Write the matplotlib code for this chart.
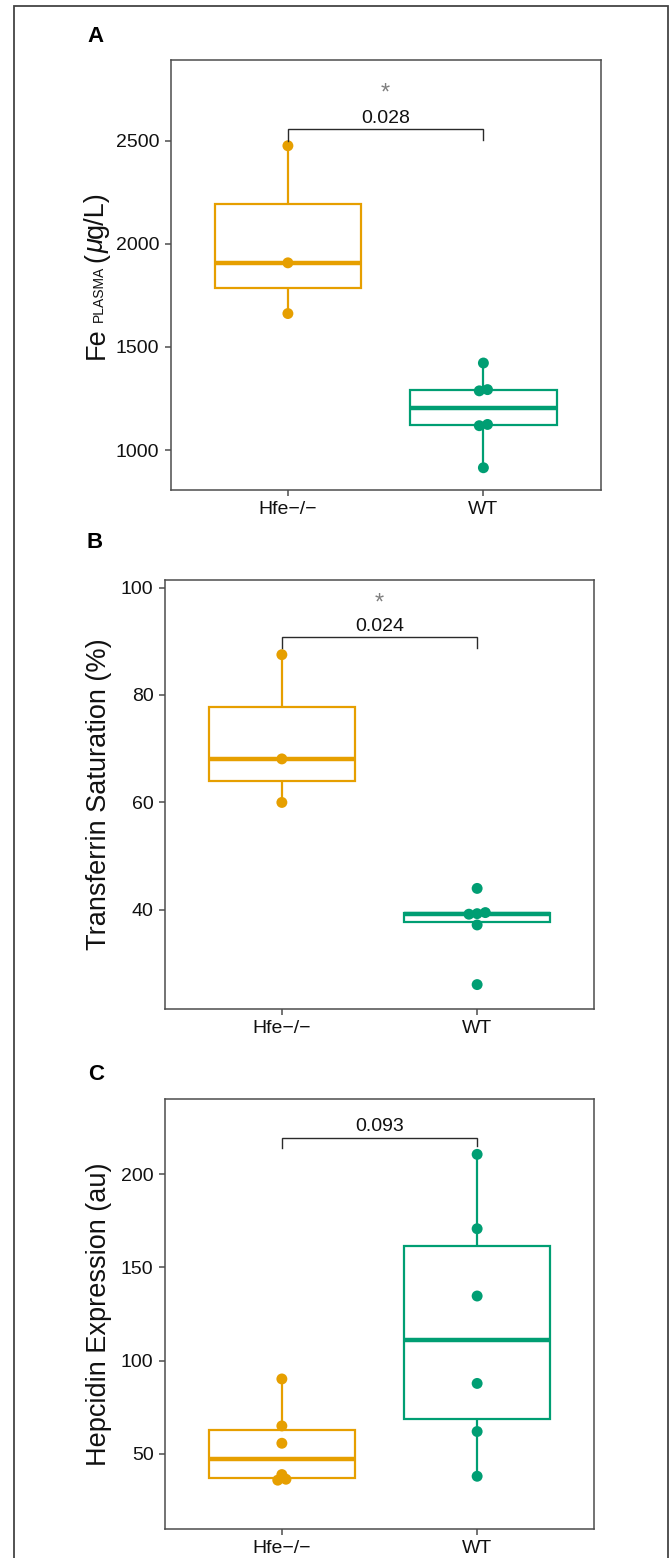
import numpy as np
import matplotlib
matplotlib.use('Agg')
import matplotlib.pyplot as plt
from matplotlib.patches import Rectangle

plt.rcParams['font.family'] = ['Liberation Sans', 'DejaVu Sans']

# ---- data ----
groups = ['Hfe\u2212/\u2212', 'WT']
colors = ['#E69F00', '#009E73']

fe_hfe = [1662, 1908, 2476]
fe_wt = [914, 1118, 1124, 1287, 1293, 1422]
tsat_hfe = [60.0, 68.1, 87.5]
tsat_wt = [26.1, 37.2, 39.2, 39.3, 39.5, 44.0]
hep_hfe = [35.9, 36.4, 38.9, 55.7, 65.0, 90.2]
hep_wt = [38.0, 62.0, 87.8, 134.7, 170.8, 210.7]

panel_letters = ['A', 'B', 'C']
ylabels = [None, 'Transferrin Saturation (%)', 'Hepcidin Expression (au)']
ylims = [(806, 2892), (21.5, 101.4), (9.7, 240.4)]
yticks = [[1000, 1500, 2000, 2500], [40, 60, 80, 100], [50, 100, 150, 200]]

# significance annotations
pvals = ['0.028', '0.024', '0.093']
stars = ['*', '*', '']
bracket_y = [2555, 90.7, 219.7]
tip_y = [(2500, 2503), (88.7, 88.7), (214.2, 215.0)]
star_y = [2727, 97.1, None]

datasets = [(fe_hfe, fe_wt), (tsat_hfe, tsat_wt), (hep_hfe, hep_wt)]

W, H = 669, 1558
fig = plt.figure(figsize=(W / 100, H / 100), dpi=100)

# axes boxes in pixels: left, top, right, bottom
boxes_px = [(170.6, 60, 600.7, 490), (164.7, 580, 594.3, 1009.3), (164.7, 1099, 594.3, 1529)]
letter_px = [(96, 37), (95, 542), (96, 1074)]

FRAME = '#4D4D4D'
TXT = '#111111'
NARROW = ['Liberation Sans Narrow', 'Liberation Sans']


def stacked_x(values, pos, tol, step):
    # spread near-equal values side by side, centred on the group position
    v = np.asarray(values, dtype=float)
    order = np.argsort(v)
    xs = np.full(len(v), float(pos))
    clusters = [[order[0]]]
    for i in order[1:]:
        if v[i] - v[clusters[-1][-1]] < tol:
            clusters[-1].append(i)
        else:
            clusters.append([i])
    for c in clusters:
        n = len(c)
        for k, idx in enumerate(c):
            xs[idx] = pos + (k - (n - 1) / 2) * step
    return xs


for i, (hfe, wt) in enumerate(datasets):
    l, t, r, b = boxes_px[i]
    ax = fig.add_axes([l / W, 1 - b / H, (r - l) / W, (b - t) / H])

    bp = ax.boxplot([hfe, wt], positions=[1, 2], widths=0.75, whis=1.5,
                    showcaps=False, showfliers=False, patch_artist=True)
    for j, c in enumerate(colors):
        bp['boxes'][j].set(facecolor='white', edgecolor=c, linewidth=1.6, zorder=2)
        bp['medians'][j].set(color=c, linewidth=3.2, zorder=2.5,
                             solid_capstyle='butt')
        for w in bp['whiskers'][2 * j:2 * j + 2]:
            w.set(color=c, linewidth=1.6, zorder=1.5)

    lo, hi = ylims[i]
    tol = 0.008 * (hi - lo)
    for j, vals in enumerate([hfe, wt]):
        xs = stacked_x(vals, j + 1, tol, 0.042)
        ax.scatter(xs, vals, s=62, color=colors[j], edgecolors='none', zorder=3)

    # bracket + p-value
    y0 = bracket_y[i]
    ax.plot([1, 1, 2, 2], [tip_y[i][0], y0, y0, tip_y[i][1]], color='#2a2a2a',
            linewidth=1.0, zorder=4, solid_joinstyle='miter')
    ax.annotate(pvals[i], xy=(1.5, y0), xytext=(0, 2), textcoords='offset points',
                ha='center', va='bottom', fontsize=14, color=TXT)
    if stars[i]:
        ax.text(1.5, star_y[i], stars[i], ha='center', va='center',
                fontsize=17, color='#7f7f7f')

    ax.set_xlim(0.4, 2.6)
    ax.set_ylim(lo, hi)
    ax.set_xticks([1, 2])
    ax.set_xticklabels(groups)
    ax.set_yticks(yticks[i])
    ax.tick_params(axis='both', length=4, width=1.1, color=FRAME, pad=4,
                   labelsize=14, labelcolor=TXT)
    for sp in ax.spines.values():
        sp.set_color(FRAME)
        sp.set_linewidth(1.1)

    if ylabels[i]:
        ax.set_ylabel(ylabels[i], fontsize=19.5, family=NARROW, color=TXT)
        ax.yaxis.set_label_coords((112 - l) / (r - l), 0.5)

    lx, ly = letter_px[i]
    fig.text(lx / W, 1 - ly / H, panel_letters[i], ha='center', va='center',
             fontsize=16, fontweight='bold', color='#000000')

# composite y label for panel A: "Fe PLASMA (µg/L)"
parts = [('Fe', 19.5, 'normal'), ('PLASMA', 10, 'normal'), ('(', 19.5, 'normal'),
         ('\u03bc', 19.5, 'italic'), ('g/L)', 19.5, 'normal')]
gaps = [5, 4, 0, 0.5]
base_x = 103.3 / W
texts = []
for s, fs, st in parts:
    texts.append(fig.text(base_x, 0.5, s, rotation=90, rotation_mode='anchor',
                          ha='left', va='baseline', fontsize=fs, style=st,
                          family=NARROW, color=TXT))
fig.canvas.draw()
rend = fig.canvas.get_renderer()
lens = [tx.get_window_extent(rend).height for tx in texts]
total = sum(lens) + sum(gaps)
l, t, r, b = boxes_px[0]
ycur = (H - (t + b) / 2) - total / 2
for k, tx in enumerate(texts):
    tx.set_position((base_x, ycur / H))
    ycur += lens[k] + (gaps[k] if k < len(gaps) else 0)

# outer frame (bottom edge is cut off in the original)
fig.add_artist(Rectangle((14 / W, -0.02), (668 - 14) / W, 1 - 6 / H + 0.02,
                         transform=fig.transFigure, fill=False,
                         edgecolor='#444444', linewidth=1.3))

fig.savefig('out.png', dpi=100)
